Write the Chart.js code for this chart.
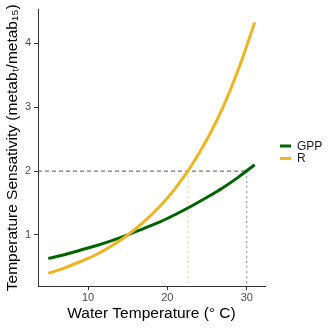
<!DOCTYPE html>
<html>
<head>
<meta charset="utf-8">
<script src="https://cdn.jsdelivr.net/npm/chart.js@4/dist/chart.umd.min.js"></script>
<style>
html,body{margin:0;padding:0;background:#fff;}
#wrap{width:330px;height:330px;}
</style>
</head>
<body>
<div id="wrap"><canvas id="c" width="330" height="330"></canvas></div>
<script>
// Data
const temps = [5, 7, 9, 11, 13, 15, 17, 19, 21, 23, 25, 27, 29, 31];
const gppValues = [0.63, 0.69, 0.76, 0.83, 0.91, 1.00, 1.10, 1.20, 1.32, 1.45, 1.59, 1.74, 1.91, 2.10];
const rValues = [0.40, 0.48, 0.58, 0.69, 0.83, 1.00, 1.20, 1.44, 1.73, 2.08, 2.50, 3.00, 3.61, 4.33];
const seriesNames = ['GPP', 'R'];
const xTicks = [10, 20, 30];
const yTicks = [1, 2, 3, 4];
const refLevel = 2;
const gppCrossTemp = 30;
const rCrossTemp = 22.6;
const xMin = 3.7, xMax = 32.3;
const yMin = 0.2, yMax = 4.53;

const gppColor = '#006400';
const rColor = '#EEB422';

const pts = (xs, ys) => xs.map((x, i) => ({x: x, y: ys[i]}));

const legendPlugin = {
  id: 'manualLegend',
  afterDraw(chart) {
    const ctx = chart.ctx;
    const items = [
      {label: seriesNames[0], color: gppColor, y: 146},
      {label: seriesNames[1], color: rColor, y: 158.5}
    ];
    ctx.save();
    ctx.font = '12px "Liberation Sans", Arial, sans-serif';
    ctx.textBaseline = 'middle';
    ctx.textAlign = 'left';
    items.forEach(it => {
      ctx.strokeStyle = it.color;
      ctx.lineWidth = 3;
      ctx.lineCap = 'butt';
      ctx.beginPath();
      ctx.moveTo(280, it.y);
      ctx.lineTo(291, it.y);
      ctx.stroke();
      ctx.fillStyle = '#1a1a1a';
      ctx.fillText(it.label, 297, it.y + 0.5);
    });
    ctx.restore();
  }
};

new Chart(document.getElementById('c'), {
  type: 'line',
  data: {
    datasets: [
      {
        label: seriesNames[1],
        data: pts(temps, rValues),
        borderColor: rColor,
        borderWidth: 3,
        pointRadius: 0,
        cubicInterpolationMode: 'monotone',
        order: 0
      },
      {
        label: seriesNames[0],
        data: pts(temps, gppValues),
        borderColor: gppColor,
        borderWidth: 3,
        pointRadius: 0,
        cubicInterpolationMode: 'monotone',
        order: 1
      },
      {
        label: 'ref-h',
        data: [{x: xMin, y: refLevel}, {x: gppCrossTemp, y: refLevel}],
        borderColor: '#555555',
        borderWidth: 1,
        borderDash: [4, 3],
        pointRadius: 0,
        order: 2
      },
      {
        label: 'ref-gpp',
        data: [{x: gppCrossTemp, y: refLevel}, {x: gppCrossTemp, y: yMin}],
        borderColor: '#8a8a8a',
        borderWidth: 1,
        borderDash: [2, 3],
        pointRadius: 0,
        order: 2
      },
      {
        label: 'ref-r',
        data: [{x: rCrossTemp, y: refLevel}, {x: rCrossTemp, y: yMin}],
        borderColor: '#d9d27a',
        borderWidth: 1,
        borderDash: [2, 3],
        pointRadius: 0,
        order: 2
      }
    ]
  },
  options: {
    responsive: false,
    animation: false,
    devicePixelRatio: 1,
    layout: {padding: {top: 4, right: 65, left: 0, bottom: 0}},
    plugins: {
      legend: {display: false},
      tooltip: {enabled: false}
    },
    scales: {
      x: {
        type: 'linear',
        min: xMin,
        max: xMax,
        afterBuildTicks: (s) => { s.ticks = xTicks.map(v => ({value: v})); },
        afterFit: (s) => { s.height = 44; },
        grid: {display: true, drawOnChartArea: false, drawTicks: true, tickLength: 4, color: '#333333', lineWidth: 1},
        border: {display: true, color: '#333333', width: 1},
        ticks: {color: '#4d4d4d', font: {size: 11, family: '"Liberation Sans", Arial, sans-serif'}, padding: 1, maxRotation: 0},
        title: {display: true, text: 'Water Temperature (\u00B0 C)', color: '#000', font: {size: 15.5, family: '"Liberation Sans", Arial, sans-serif'}, padding: {top: 0, bottom: 7}}
      },
      y: {
        type: 'linear',
        min: yMin,
        max: yMax,
        afterBuildTicks: (s) => { s.ticks = yTicks.map(v => ({value: v})); },
        afterFit: (s) => { s.width = 38; },
        grid: {display: true, drawOnChartArea: false, drawTicks: true, tickLength: 4, color: '#333333', lineWidth: 1},
        border: {display: true, color: '#333333', width: 1},
        ticks: {color: '#4d4d4d', font: {size: 11, family: '"Liberation Sans", Arial, sans-serif'}, padding: 3},
        title: {display: true, text: 'Temperature Sensativity (metab\u209C/metab\u2081\u2085)', color: '#000', font: {size: 15.5, family: '"Liberation Sans", Arial, sans-serif'}, padding: {top: 3, bottom: 0}}
      }
    }
  },
  plugins: [legendPlugin]
});
</script>
</body>
</html>
